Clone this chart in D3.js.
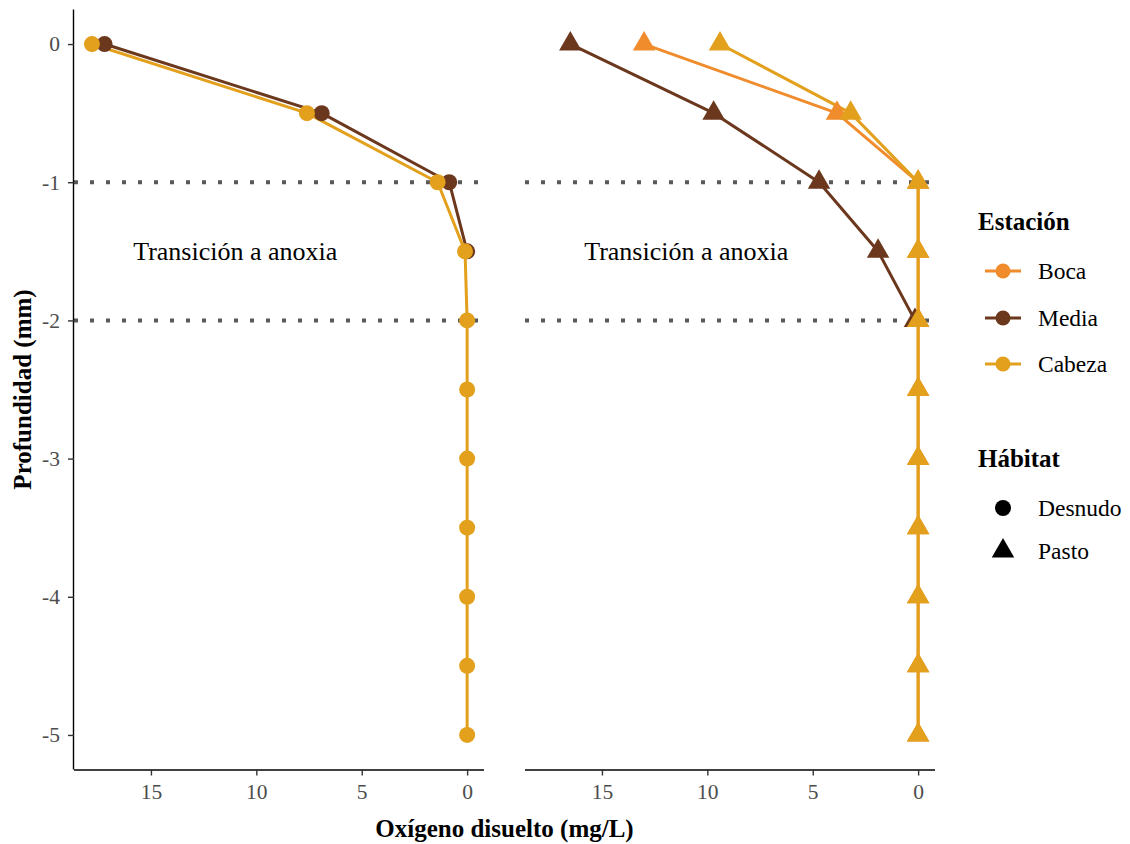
<!DOCTYPE html>
<html><head><meta charset="utf-8">
<script src="https://cdn.jsdelivr.net/npm/d3@7"></script>
<style>body{margin:0;background:#fff;} svg{display:block;font-family:"Liberation Serif","Times New Roman",serif;}</style>
</head><body>
<svg id="c" width="1130" height="844"></svg>
<script>
// ---- data ----
const depths = [0, -0.5, -1, -1.5, -2, -2.5, -3, -3.5, -4, -4.5, -5];
const stations = ["Boca", "Media", "Cabeza"];
const habitats = ["Desnudo", "Pasto"];
// Oxygen (mg/L) per depth; null = not visible / no data
const desnudoBoca   = [null, null, null, null, null, null, null, null, null, null, null];
const desnudoMedia  = [17.2, 6.9, 0.85, 0, null, null, null, null, null, null, null];
const desnudoCabeza = [17.8, 7.6, 1.4, 0.1, 0, 0, 0, 0, 0, 0, 0];
const pastoBoca     = [13.0, 3.85, 0, 0, 0, 0, 0, 0, 0, 0, 0];
const pastoMedia    = [16.5, 9.7, 4.7, 1.9, 0.15, null, null, null, null, null, null];
const pastoCabeza   = [9.4, 3.2, 0, 0, 0, 0, 0, 0, 0, 0, 0];
const xTicks = [15, 10, 5, 0];
const yTicks = [0, -1, -2, -3, -4, -5];
const hlines = [-1, -2];
const annotText = "Transición a anoxia";
const annotPos = [11, -1.5];

const colors = {Boca: "#F08C2C", Media: "#6B381E", Cabeza: "#E3A01C"};
const series = {
  Desnudo: {Boca: desnudoBoca, Media: desnudoMedia, Cabeza: desnudoCabeza},
  Pasto:   {Boca: pastoBoca,   Media: pastoMedia,   Cabeza: pastoCabeza}
};

const svg = d3.select("#c");
const pTop = 9.5, pBottom = 769.5;
const panels = [
  {hab: "Desnudo", x0: 74, x1: 484, shape: "circle", yAxis: true},
  {hab: "Pasto",   x0: 525, x1: 935, shape: "triangle", yAxis: false}
];
const y = d3.scaleLinear().domain([-5.25, 0.25]).range([pBottom, pTop]);

function triPath(R){
  const xc = R*Math.sqrt(3)/2, yc = R/2;
  return `M0,${-R}L${xc},${yc}L${-xc},${yc}Z`;
}
const circR = 8, triR = 13;

function drawMarker(g, shape, cx, cy, fill, r){
  if (shape === "circle") {
    g.append("circle").attr("cx", cx).attr("cy", cy).attr("r", r || circR).attr("fill", fill);
  } else {
    g.append("path").attr("d", triPath(r || triR)).attr("transform", `translate(${cx},${cy})`).attr("fill", fill);
  }
}

panels.forEach(p => {
  const x = d3.scaleLinear().domain([18.65, -0.8]).range([p.x0, p.x1]);
  const g = svg.append("g");
  hlines.forEach(h => {
    g.append("line").attr("x1", p.x0).attr("x2", p.x1).attr("y1", y(h)).attr("y2", y(h))
      .attr("stroke", "#595959").attr("stroke-width", 4).attr("stroke-dasharray", "4,12");
  });
  g.append("text").attr("x", x(annotPos[0])).attr("y", y(annotPos[1])).attr("dy", "0.35em")
    .attr("text-anchor", "middle").attr("font-size", 26).attr("fill", "#000").text(annotText);
  const line = d3.line().defined(d => d.v !== null).x(d => x(d.v)).y(d => y(d.d));
  stations.forEach(s => {
    const data = depths.map((d, i) => ({d, v: series[p.hab][s][i]}));
    g.append("path").datum(data).attr("d", line).attr("fill", "none")
      .attr("stroke", colors[s]).attr("stroke-width", 3).attr("stroke-linejoin", "round");
  });
  stations.forEach(s => {
    depths.forEach((d, i) => {
      const v = series[p.hab][s][i];
      if (v === null) return;
      drawMarker(g, p.shape, x(v), y(d), colors[s]);
    });
  });
  const xa = g.append("g").attr("transform", `translate(0,${pBottom})`)
    .call(d3.axisBottom(x).tickValues(xTicks).tickSize(6).tickPadding(8).tickFormat(d3.format("d")));
  xa.select(".domain").attr("stroke", "#000").attr("stroke-width", 1.4).attr("d", `M${p.x0},0.5H${p.x1}`);
  xa.selectAll(".tick line").attr("stroke", "#333").attr("stroke-width", 1.4);
  xa.selectAll(".tick text").attr("font-size", 21.5).attr("fill", "#4D4D4D").attr("font-family", "Liberation Serif");
  if (p.yAxis) {
    const ya = g.append("g").attr("transform", `translate(${p.x0},0)`)
      .call(d3.axisLeft(y).tickValues(yTicks).tickSize(6).tickPadding(8).tickFormat(d => String(d)));
    ya.select(".domain").attr("stroke", "#000").attr("stroke-width", 1.4).attr("d", `M-0.5,${pTop}V${pBottom}`);
    ya.selectAll(".tick line").attr("stroke", "#333").attr("stroke-width", 1.4);
    ya.selectAll(".tick text").attr("font-size", 21.5).attr("fill", "#4D4D4D").attr("font-family", "Liberation Serif");
  }
});

svg.append("text").attr("x", 504.5).attr("y", 837).attr("text-anchor", "middle")
  .attr("font-size", 25).attr("font-weight", "bold").text("Oxígeno disuelto (mg/L)");
svg.append("text").attr("transform", `translate(31,${(pTop+pBottom)/2}) rotate(-90)`).attr("text-anchor", "middle")
  .attr("font-size", 25).attr("font-weight", "bold").text("Profundidad (mm)");

const lg = svg.append("g");
lg.append("text").attr("x", 978).attr("y", 230).attr("font-size", 25).attr("font-weight", "bold").text("Estación");
const legY = [271, 318, 364];
stations.forEach((s, i) => {
  lg.append("line").attr("x1", 985).attr("x2", 1021).attr("y1", legY[i]).attr("y2", legY[i])
    .attr("stroke", colors[s]).attr("stroke-width", 3);
  drawMarker(lg, "circle", 1003, legY[i], colors[s], 7.5);
  lg.append("text").attr("x", 1038).attr("y", legY[i]).attr("dy", "0.35em").attr("font-size", 23.5).text(s);
});
lg.append("text").attr("x", 978).attr("y", 467).attr("font-size", 25).attr("font-weight", "bold").text("Hábitat");
const habY = [508, 551];
habitats.forEach((h, i) => {
  drawMarker(lg, i === 0 ? "circle" : "triangle", 1003, habY[i], "#000");
  lg.append("text").attr("x", 1038).attr("y", habY[i]).attr("dy", "0.35em").attr("font-size", 23.5).text(h);
});
</script>
</body></html>
